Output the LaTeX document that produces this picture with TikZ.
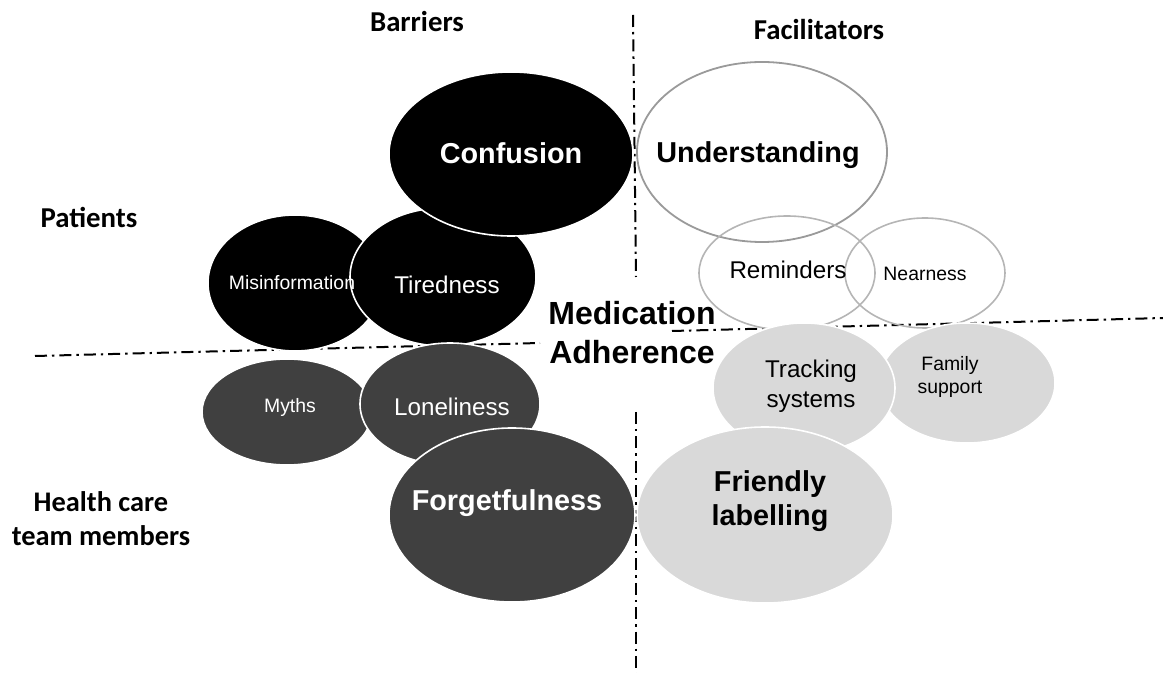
\documentclass[tikz,border=0pt]{standalone}
\usepackage{fontspec}
\setmainfont{Liberation Sans}
\newfontfamily\hdr{Carlito}
\usetikzlibrary{shapes.geometric}
\definecolor{dk}{HTML}{404040}
\definecolor{lt}{HTML}{D9D9D9}
\definecolor{olA}{HTML}{9A9A9A}
\definecolor{olB}{HTML}{B5B5B5}
\begin{document}
\begin{tikzpicture}[x=0.5pt,y=-0.5pt,
  ell/.style={ellipse, inner sep=0pt},
  blk/.style={ell, fill=black, draw=white, line width=0.8pt},
  drk/.style={ell, fill=dk, draw=white, line width=0.8pt},
  lgt/.style={ell, fill=lt, draw=white, line width=0.8pt},
  wht/.style={ell, draw=olA, line width=0.9pt},
  whtl/.style={ell, draw=olB, line width=0.8pt},
  hd/.style={font=\hdr\bfseries\fontsize{14.4}{17}\selectfont},
  big/.style={font=\bfseries\fontsize{14.4}{17}\selectfont},
  mid/.style={font=\fontsize{12.1}{15}\selectfont},
  sml/.style={font=\fontsize{9.7}{11.5}\selectfont},
  sep/.style={line width=1pt, dash pattern=on 6pt off 2.5pt on 1.2pt off 2.5pt}]
\useasboundingbox (0,0) rectangle (1163,673);

% separators
\coordinate (v1) at (633,15);
\coordinate (v2) at (636,277);
\coordinate (v3) at (636,412);
\coordinate (v4) at (636,673);
\coordinate (h1) at (35,356);
\coordinate (h2) at (540,343);
\coordinate (h3) at (672,331);
\coordinate (h4) at (1163,318);
\draw[sep] (v1) -- (v2);
\draw[sep] (v3) -- (v4);
\draw[sep] (h1) -- (h2);
\draw[sep] (h3) -- (h4);

% barriers: patients
\node[blk, minimum width=87pt, minimum height=68pt] (mis) at (295,283) {};
\node[blk, minimum width=93pt, minimum height=69pt] (tir) at (443,277) {};
\node[blk, minimum width=122pt, minimum height=82pt] (con) at (511,154) {};
% barriers: health care team
\node[drk, minimum width=85pt, minimum height=53pt] (myt) at (287,412) {};
\node[drk, minimum width=90pt, minimum height=61pt] (lon) at (450,404) {};
\node[drk, minimum width=123pt, minimum height=87pt] (for) at (512,515) {};
% facilitators
\node[wht, minimum width=125pt, minimum height=90pt] (und) at (762,152) {};
\node[whtl, minimum width=88pt, minimum height=57pt] (rem) at (787,273) {};
\node[whtl, minimum width=80pt, minimum height=55pt] (nea) at (925,273) {};
\node[lgt, minimum width=88pt, minimum height=60pt] (fam) at (967,383) {};
\node[lgt, minimum width=91pt, minimum height=65pt] (tra) at (804,388) {};
\node[lgt, minimum width=128pt, minimum height=88pt] (fri) at (765,515) {};

% texts
\node[sml, text=white] (tmis) at (292,283) {Misinformation};
\node[mid, text=white] (ttir) at (447,285) {Tiredness};
\node[big, text=white] (tcon) at (511,153) {Confusion};
\node[sml, text=white] (tmyt) at (290,407) {Myths};
\node[mid, text=white] (tlon) at (452,407) {Loneliness};
\node[big, text=white] (tfor) at (507,503) {Forgetfulness};
\node[big] (tund) at (758,155) {Understanding};
\node[mid] (trem) at (788,270) {Reminders};
\node[sml] (tnea) at (925,274) {Nearness};
\node[mid, align=center, font=\fontsize{12.1}{15}\selectfont] (ttra) at (811,386) {Tracking\\systems};
\node[sml, align=center, font=\fontsize{9.7}{11.5}\selectfont] (tfam) at (950,377) {Family\\support};
\node[big, align=center, font=\bfseries\fontsize{14.4}{17}\selectfont] (tfri) at (770,501) {Friendly\\labelling};

\node[align=center, font=\bfseries\fontsize{16}{19.5}\selectfont] (med) at (632,333) {Medication\\Adherence};

% headers
\node[hd] (bar) at (417,22) {Barriers};
\node[hd] (fac) at (819,30) {Facilitators};
\node[hd] (pat) at (89,217) {Patients};
\node[hd, align=center, font=\hdr\bfseries\fontsize{14.2}{17}\selectfont] (hct) at (101,519) {Health care\\team members};
\end{tikzpicture}
\end{document}
